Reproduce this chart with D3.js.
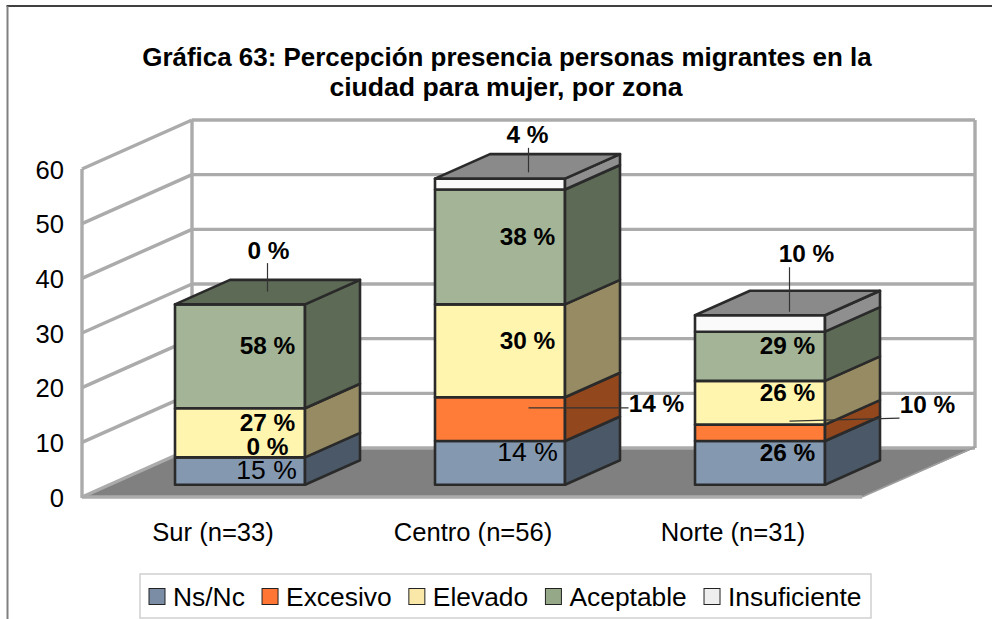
<!DOCTYPE html>
<html lang="es">
<head>
<meta charset="utf-8">
<title>Gráfica 63</title>
<script src="https://cdn.jsdelivr.net/npm/d3@7/dist/d3.min.js"></script>
<style>
html,body{margin:0;padding:0;background:#fff;overflow:hidden}
svg{display:block}
text{font-family:"Liberation Sans",Arial,sans-serif;fill:#000}
</style>
</head>
<body>
<svg id="chart" width="992" height="619">
  <defs><filter id="soft" x="-5%" y="-5%" width="110%" height="110%"><feGaussianBlur stdDeviation="0.4"/></filter></defs>
</svg>
<script>
const titleLines = ["Gráfica 63: Percepción presencia personas migrantes en la", "ciudad para mujer, por zona"];
const categories = ["Sur (n=33)", "Centro (n=56)", "Norte (n=31)"];
const seriesNames = ["Ns/Nc", "Excesivo", "Elevado", "Aceptable", "Insuficiente"];
const nsNc        = [5, 8, 8];
const excesivo    = [0, 8, 3];
const elevado     = [9, 17, 8];
const aceptable   = [19, 21, 9];
const insuficiente= [0, 2, 3];
const pctNsNc        = [15, 14, 26];
const pctExcesivo    = [0, 14, 10];
const pctElevado     = [27, 30, 26];
const pctAceptable   = [58, 38, 29];
const pctInsuficiente= [0, 4, 10];
const yTicks = [0, 10, 20, 30, 40, 50, 60];

const seriesValues = [nsNc, excesivo, elevado, aceptable, insuficiente];
const seriesPct = [pctNsNc, pctExcesivo, pctElevado, pctAceptable, pctInsuficiente];
const frontColors = ["#8499B0", "#FF7C38", "#FFF5AE", "#A3B596", "#FBFAFA"];
const sideColors  = ["#4B5968", "#93461F", "#968B62", "#5D6A55", "#8F8F8F"];
const topColors   = ["#4B5968", "#93461F", "#968B62", "#5D6A55", "#8A8A8A"];
const legendColors= ["#7A8DA5", "#FF7634", "#FAE8A8", "#95A888", "#EEEEEE"];

const svg = d3.select("#chart");
const GRID = "#ABABAB";

// chart frame
svg.append("line").attr("x1",6.5).attr("x2",992).attr("y1",6).attr("y2",6).attr("stroke","#000").attr("stroke-width",1.5);
svg.append("line").attr("x1",7.5).attr("x2",7.5).attr("y1",6).attr("y2",619).attr("stroke","#808080").attr("stroke-width",2);

// title
svg.append("g").selectAll("text").data(titleLines).join("text")
  .attr("x",(d,i)=>i?506:507).attr("y",(d,i)=>65.5+i*30)
  .attr("text-anchor","middle").attr("font-weight","bold").attr("font-size",(d,i)=>i?26.6:25.95)
  .text(d=>d);

// scales
const y = d3.scaleLinear().domain([0,60]).range([497,169]);
const x = d3.scaleBand().domain(categories).range([82,862]).paddingInner(0.5).paddingOuter(0.25);
const depthX = 110, depthY = -49;
const px = (xv, depth) => xv + depth*depthX;
const py = (v, depth) => y(v) + depth*depthY;
const pts = a => a.map(p=>p.join(",")).join(" ");

// walls
const g3 = svg.append("g").attr("filter","url(#soft)");
g3.append("polygon")
  .attr("points", pts([[82,497],[862,497],[px(862,1)+3,py(0,1)],[px(82,1),py(0,1)]]))
  .attr("fill","#808080");
g3.selectAll(".side").data(yTicks).join("line").attr("class","side")
  .attr("x1",82).attr("y1",d=>y(d)).attr("x2",px(82,1)).attr("y2",d=>py(d,1))
  .attr("stroke",GRID).attr("stroke-width",3.4);
g3.selectAll(".back").data(yTicks.slice(1)).join("line").attr("class","back")
  .attr("x1",px(82,1)).attr("y1",d=>py(d,1)).attr("x2",975).attr("y2",d=>py(d,1))
  .attr("stroke",GRID).attr("stroke-width",3.4);
[[82,y(60),82,y(0)+1],[px(82,1),py(60,1),px(82,1),py(0,1)],[975,py(60,1),975,py(0,1)],[82,y(0),862,y(0)],[px(82,1),py(0,1),975,py(0,1)]]
 .forEach(l=>g3.append("line").attr("x1",l[0]).attr("y1",l[1]).attr("x2",l[2]).attr("y2",l[3]).attr("stroke",GRID).attr("stroke-width",3.4));
g3.append("line").attr("x1",862).attr("y1",497).attr("x2",975).attr("y2",447).attr("stroke","#A0A0A0").attr("stroke-width",1.5);

// axes
const yAxis = d3.axisLeft(y).tickValues(yTicks).tickSize(0).tickPadding(18);
const gy = svg.append("g").attr("transform","translate(82,1)").call(yAxis);
gy.select(".domain").remove();
gy.selectAll("text").attr("font-size",25.6).attr("font-family",null);
const xAxis = d3.axisBottom(x).tickSize(0).tickPadding(26);
const gx = svg.append("g").attr("transform","translate(1,497)").call(xAxis);
gx.select(".domain").remove();
gx.selectAll("text").attr("font-size",25.6).attr("font-family",null);

// stacked 3D columns
const stackRows = categories.map((c,ci)=>{
  const row = {cat:c};
  seriesNames.forEach((s,si)=>row[s]=seriesValues[si][ci]);
  return row;
});
const stacked = d3.stack().keys(seriesNames)(stackRows);
const D0 = 0.25, D1 = 0.75;
const STROKE = "#2B2B2B";
const bars = svg.append("g").attr("filter","url(#soft)");
categories.forEach((cat,ci)=>{
  const xl = x(cat)+0.5, xr = xl + x.bandwidth();
  const segs = stacked.map((s,si)=>({si, a:s[ci][0], b:s[ci][1]}));
  const lastVisible = d3.max(segs.filter(d=>d.b>d.a), d=>d.si);
  const g = bars.append("g");
  segs.forEach(sg=>{
    if (sg.b <= sg.a) return;
    g.append("polygon")
      .attr("points",pts([[px(xl,D0),py(sg.a,D0)],[px(xr,D0),py(sg.a,D0)],[px(xr,D0),py(sg.b,D0)],[px(xl,D0),py(sg.b,D0)]]))
      .attr("fill",frontColors[sg.si]).attr("stroke",STROKE).attr("stroke-width",2.6).attr("stroke-linejoin","round");
    g.append("polygon")
      .attr("points",pts([[px(xr,D0),py(sg.a,D0)],[px(xr,D1),py(sg.a,D1)],[px(xr,D1),py(sg.b,D1)],[px(xr,D0),py(sg.b,D0)]]))
      .attr("fill",sideColors[sg.si]).attr("stroke",STROKE).attr("stroke-width",2.6).attr("stroke-linejoin","round");
    if (sg.si === lastVisible) {
      g.append("polygon")
        .attr("points",pts([[px(xl,D0),py(sg.b,D0)],[px(xr,D0),py(sg.b,D0)],[px(xr,D1),py(sg.b,D1)],[px(xl,D1),py(sg.b,D1)]]))
        .attr("fill",topColors[sg.si]).attr("stroke",STROKE).attr("stroke-width",2.6).attr("stroke-linejoin","round");
    }
  });
});

// data labels: centred on the mid depth of each segment; some sit outside with a leader
const calloutFor = (si,ci)=>{
  if (si===4 && ci===0) return {dx:1,   dy:-43.5, from:[0,-30.5], to:[0,-2]};
  if (si===4 && ci===1) return {dx:0,   dy:-38.5, from:[1,-25.5], to:[1,-1]};
  if (si===4 && ci===2) return {dx:19,  dy:-59.5, from:[2,-45.5], to:[2,-1]};
  if (si===1 && ci===1) return {dx:129, dy:-4.5,  from:[101,-0.5], to:[1,-0.5]};
  if (si===1 && ci===2) return {dx:140, dy:-18,   from:[112,-4], to:[2,-1]};
  return null;
};
const labels = svg.append("g");
stacked.forEach((s,si)=>{
  categories.forEach((cat,ci)=>{
    const a = s[ci][0], b = s[ci][1], mid = (a+b)/2;
    const cx = px(x(cat)+x.bandwidth()/2, 0.25) + 28;
    const cy = py(mid,0.5) + 1.5;
    const c = calloutFor(si,ci);
    const regular = (si===0 && ci<2);
    let tx = cx, ty = cy;
    if (c) {
      tx = cx + c.dx; ty = cy + c.dy;
      labels.append("line")
        .attr("x1",cx + c.from[0]).attr("y1",cy + c.from[1])
        .attr("x2",cx + c.to[0]).attr("y2",cy + c.to[1])
        .attr("stroke","#333").attr("stroke-width",1.2);
    }
    if (si===0 && ci===0) { ty += 9; tx -= 1; }
    labels.append("text").attr("x",tx).attr("y",ty)
      .attr("dy","0.35em").attr("text-anchor","middle")
      .attr("font-size",regular?26.5:24.4).attr("font-weight",regular?"normal":"bold")
      .text(seriesPct[si][ci]+" %");
  });
});

// legend
svg.append("rect").attr("x",140).attr("y",574).attr("width",731).attr("height",44)
  .attr("fill","#fff").attr("stroke","#D0D0D0").attr("stroke-width",1.5);
const lg = svg.append("g");
let lx = 149;
seriesNames.forEach((n,i)=>{
  lg.append("rect").attr("x",lx).attr("y",588.5).attr("width",16).attr("height",16)
    .attr("fill",legendColors[i]).attr("stroke","#222").attr("stroke-width",1);
  const t = lg.append("text").attr("x",lx+24).attr("y",605.5).attr("font-size",26.4).text(n);
  lx += 24 + t.node().getComputedTextLength() + 17.2;
});
</script>
</body>
</html>
